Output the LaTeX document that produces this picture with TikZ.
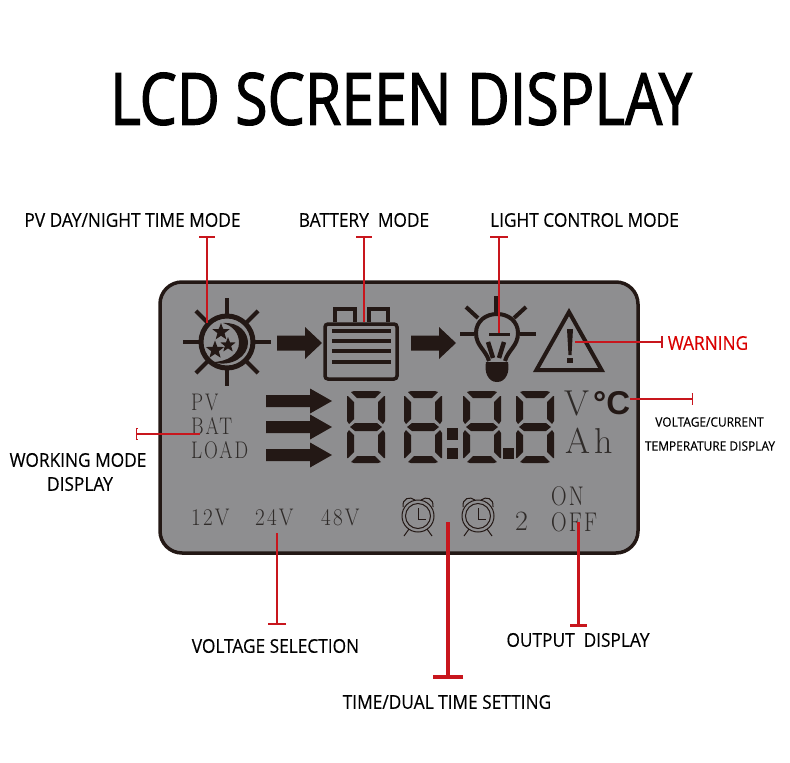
\documentclass[tikz,border=0pt]{standalone}
\usepackage{fontspec}
\usepackage{tikz}
\usetikzlibrary{arrows.meta, shapes.geometric}
\setmainfont{Open Sans}
\newfontfamily\titlefont[FakeStretch=0.82, FakeBold=1.6]{Open Sans}
\newfontfamily\labelfont[FakeStretch=0.91, FakeBold=0.3]{Open Sans}
\newfontfamily\smallfont[FakeStretch=0.92, FakeBold=0.2]{Open Sans}
\newfontfamily\lcdfont[FakeStretch=0.8, LetterSpace=8]{Latin Modern Roman}
\newfontfamily\lcdvoltfont[FakeStretch=0.88, LetterSpace=9]{Latin Modern Roman}
\newfontfamily\lcdbigfont[LetterSpace=12]{Latin Modern Roman}
\newfontfamily\degfont{Liberation Sans}

\definecolor{lcdink}{HTML}{231815}
\definecolor{lcdgray}{HTML}{8E8E90}
\definecolor{leadred}{HTML}{C8161D}
\definecolor{lcdtext}{HTML}{2F2B29}

\tikzset{
	callout/.style={font=\labelfont\fontsize{19}{21}\selectfont, text=black, inner sep=0pt},
	smallcallout/.style={font=\smallfont\fontsize{13}{15}\selectfont, text=black, inner sep=0pt},
	lcdtag/.style={font=\lcdfont\fontsize{24}{26}\selectfont, text=lcdtext, inner sep=0pt, anchor=base west},
	lcdvolt/.style={font=\lcdvoltfont\fontsize{24}{26}\selectfont, text=lcdtext, inner sep=0pt, anchor=base west},
	lcdtall/.style={font=\lcdfont\fontsize{27}{29}\selectfont, text=lcdtext, inner sep=0pt, anchor=base west},
	lcdbig/.style={font=\lcdbigfont\fontsize{36}{38}\selectfont, text=lcdtext, inner sep=0pt, anchor=base west},
	lead/.style={draw=leadred, line width=2.4pt},
	thinlead/.style={draw=leadred, line width=1.3pt},
	ray/.style={draw=lcdink, line width=4pt},
	starmark/.style={star, star points=5, star point ratio=2.4, fill=lcdink, inner sep=0pt, minimum size=#1},
	% seven segments, box 38 x 72
	lcddigit/.pic={
		\foreach \flip in {1,-1} {
			\begin{scope}[shift={(0,36)}, yscale=\flip]
				\fill[lcdink] (4,-35) -- (7,-36) -- (31,-36) -- (34,-35) -- (28,-29) -- (10,-29) -- cycle;
				\fill[lcdink] (0,-31) -- (1,-31) -- (7,-25) -- (7,-8) -- (2,-3) -- (0,-6) -- cycle;
				\fill[lcdink] (38,-31) -- (37,-31) -- (31,-25) -- (31,-8) -- (36,-3) -- (38,-6) -- cycle;
			\end{scope}
		}
		\fill[lcdink] (3,36) -- (8,32) -- (30,32) -- (35,36) -- (30,40) -- (8,40) -- cycle;
	},
	smallarrow/.pic={
		\fill[lcdink] (0,-7.5) -- (28,-7.5) -- (28,-16) -- (45,0) -- (28,16) -- (28,7.5) -- (0,7.5) -- cycle;
	},
	bigarrow/.pic={
		\fill[lcdink] (0,-6) -- (44,-6) -- (44,-12.5) -- (66,0) -- (44,12.5) -- (44,6) -- (0,6) -- cycle;
	},
	alarmclock/.pic={
		\draw[lcdink, line width=1pt] (0,0) circle (16pt) (0,0) circle (12.5pt);
		\draw[lcdink, line width=1pt] (0,-8) -- (0,3) -- (8,3);
		\draw[lcdink, line width=1pt] (-15,-9) .. controls (-16,-18) and (-8,-20) .. (-3,-16);
		\draw[lcdink, line width=1pt] (15,-9) .. controls (16,-18) and (8,-20) .. (3,-16);
		\draw[lcdink, line width=1pt] (-9,13) -- (-14,20) (9,13) -- (14,20);
	},
}

\begin{document}
\begin{tikzpicture}[x=1pt, y=-1pt]
	\useasboundingbox (0,0) rectangle (790,763);

	\node[font=\titlefont\fontsize{72}{74}\selectfont, inner sep=0pt] (title) at (401,99) {LCD SCREEN DISPLAY};

	% screen
	\draw[draw=lcdink, fill=lcdgray, line width=3.5pt, rounded corners=22pt] (160,282) rectangle (638,553);

	% sun and moon
	\foreach \ang in {0,45,...,315} {
		\draw[ray] (227,342) ++(\ang:26pt) -- ++(\ang:18pt);
	}
	\draw[lcdink, line width=5pt] (227,342) circle (26pt);
	\fill[lcdink] (223,323) .. controls (240,322) and (248,333) .. (248,343)
		.. controls (248,356) and (232,368) .. (212,362)
		.. controls (228,362) and (239,354) .. (239,343)
		.. controls (239,333) and (233,326) .. (223,323) -- cycle;
	\node[starmark=18pt] (star1) at (221,332) {};
	\node[starmark=16pt] (star2) at (228,345) {};
	\node[starmark=19pt] (star3) at (215,350) {};

	\pic at (277,343) {smallarrow};

	% battery
	\draw[lcdink, line width=3.5pt] (335,322) |- (355,309) -- (355,322);
	\draw[lcdink, line width=3.5pt] (369,322) |- (388,309) -- (388,322);
	\draw[lcdink, line width=3.5pt, rounded corners=3pt] (325,324) rectangle (397,379);
	\foreach \yy in {331,341,351,362} {
		\draw[lcdink, line width=4.5pt] (332,\yy) -- (391,\yy);
	}

	\pic at (411,343) {smallarrow};

	% bulb
	\draw[lcdink, line width=4pt] (489,361) .. controls (486,350) and (476,346) .. (476,333)
		.. controls (476,321) and (486,314) .. (497,314)
		.. controls (508,314) and (518,321) .. (518,333)
		.. controls (518,346) and (508,350) .. (505,361);
	\fill[lcdink] (486,362) -- (508,362) .. controls (510,372) and (506,382) .. (497,382)
		.. controls (488,382) and (484,372) .. (486,362) -- cycle;
	\draw[lcdink, line width=5pt] (496,296) -- (496,313);
	\draw[ray] (466,307) -- (478,318);
	\draw[ray] (526,307) -- (514,318);
	\draw[ray] (460,334) -- (474,334);
	\draw[ray] (520,334) -- (536,334);
	\draw[lcdink, line width=3pt] (489,334) -- (510,334);
	\draw[lcdink, line width=4.5pt] (488,342) -- (493,358);
	\draw[lcdink, line width=4.5pt] (504,342) -- (499,358);

	% warning
	\draw[lcdink, line width=4pt, line join=miter] (569,312) -- (601.6,370) -- (536.4,370) -- cycle;
	\fill[lcdink] (567,329) -- (573,329) -- (571.5,355) -- (568.5,355) -- cycle;
	\fill[lcdink] (567,358) rectangle (573,363);

	% mode tags
	\node[lcdtag] (pvtag) at (191,410) {PV};
	\node[lcdtag] (battag) at (191,434) {BAT};
	\node[lcdtag] (loadtag) at (191,458) {LOAD};

	\pic at (266,401) {bigarrow};
	\pic at (266,427) {bigarrow};
	\pic at (266,455) {bigarrow};

	% digits
	\foreach \xx in {347,404,463,516} {
		\pic at (\xx,391) {lcddigit};
	}
	\fill[lcdink] (447,428) rectangle (458,440);
	\fill[lcdink] (447,448) rectangle (458,459);
	\fill[lcdink] (503,448) rectangle (514,459);

	\node[lcdbig] (volt) at (564,415) {V};
	\node[lcdbig, font=\degfont\bfseries\fontsize{33}{35}\selectfont, text=lcdink] (degc) at (593,414) {°C};
	\node[lcdbig] (amph) at (565,453) {Ah};

	% bottom row
	\node[lcdvolt] (v12) at (191,525) {12V};
	\node[lcdvolt] (v24) at (255,525) {24V};
	\node[lcdvolt] (v48) at (321,525) {48V};
	\pic at (418,516) {alarmclock};
	\pic at (478,516) {alarmclock};
	\node[lcdtall, font=\lcdbigfont\fontsize{28}{30}\selectfont] (two) at (515,530) {2};
	\node[lcdtall] (ontag) at (551,505) {ON};
	\node[lcdtall] (offtag) at (551,531) {OFF};

	% ends of the leaders
	\coordinate (pvtop) at (207,236);
	\coordinate (pvend) at (207,323);
	\coordinate (battop) at (364,236);
	\coordinate (batend) at (364,322);
	\coordinate (lighttop) at (499,236);
	\coordinate (lightend) at (499,333);
	\coordinate (warnstart) at (575,342);
	\coordinate (warnbar) at (663,342);
	\coordinate (tempstart) at (630,399);
	\coordinate (tempbar) at (693,399);
	\coordinate (workbar) at (136,434);
	\coordinate (workend) at (200,434);
	\coordinate (voltstart) at (277,533);
	\coordinate (voltbar) at (277,625);
	\coordinate (timestart) at (448,522);
	\coordinate (timebar) at (448,679);
	\coordinate (outstart) at (578,522);
	\coordinate (outbar) at (578,627);

	\draw[lead, {Bar[width=16pt, length=2.4pt]}-] (pvtop) -- (pvend);
	\draw[lead, {Bar[width=16pt, length=2.4pt]}-] (battop) -- (batend);
	\draw[lead, {Bar[width=18pt, length=2.4pt]}-] (lighttop) -- (lightend);
	\draw[thinlead, -{Bar[width=12pt, length=2pt]}] (warnstart) -- (warnbar);
	\draw[thinlead, -{Bar[width=12pt, length=1.5pt]}] (tempstart) -- (tempbar);
	\draw[thinlead, {Bar[width=12pt, length=1.5pt]}-] (workbar) -- (workend);
	\draw[lead, -{Bar[width=18pt, length=2.4pt]}] (voltstart) -- (voltbar);
	\draw[lead, line width=4pt, -{Bar[width=30pt, length=4pt]}] (timestart) -- (timebar);
	\draw[lead, line width=3pt, -{Bar[width=17pt, length=3pt]}] (outstart) -- (outbar);

	% labels
	\node[callout] (pvlabel) at (132.5,220) {PV DAY/NIGHT TIME MODE};
	\node[callout] (batlabel) at (364,220) {BATTERY\ \ MODE};
	\node[callout] (lightlabel) at (584.5,220) {LIGHT CONTROL MODE};
	\node[callout, text=red!85!black] (warnlabel) at (708,343) {WARNING};
	\node[smallcallout] (vclabel) at (709.5,422) {VOLTAGE/CURRENT};
	\node[smallcallout] (templabel) at (710,446) {TEMPERATURE DISPLAY};
	\node[callout] (worklabel) at (78,460) {WORKING MODE};
	\node[callout] (displabel) at (80,484) {DISPLAY};
	\node[callout] (voltlabel) at (275.5,646) {VOLTAGE SELECTION};
	\node[callout] (outlabel) at (578,640) {OUTPUT\ \ DISPLAY};
	\node[callout] (timelabel) at (447,702) {TIME/DUAL TIME SETTING};
\end{tikzpicture}
\end{document}
